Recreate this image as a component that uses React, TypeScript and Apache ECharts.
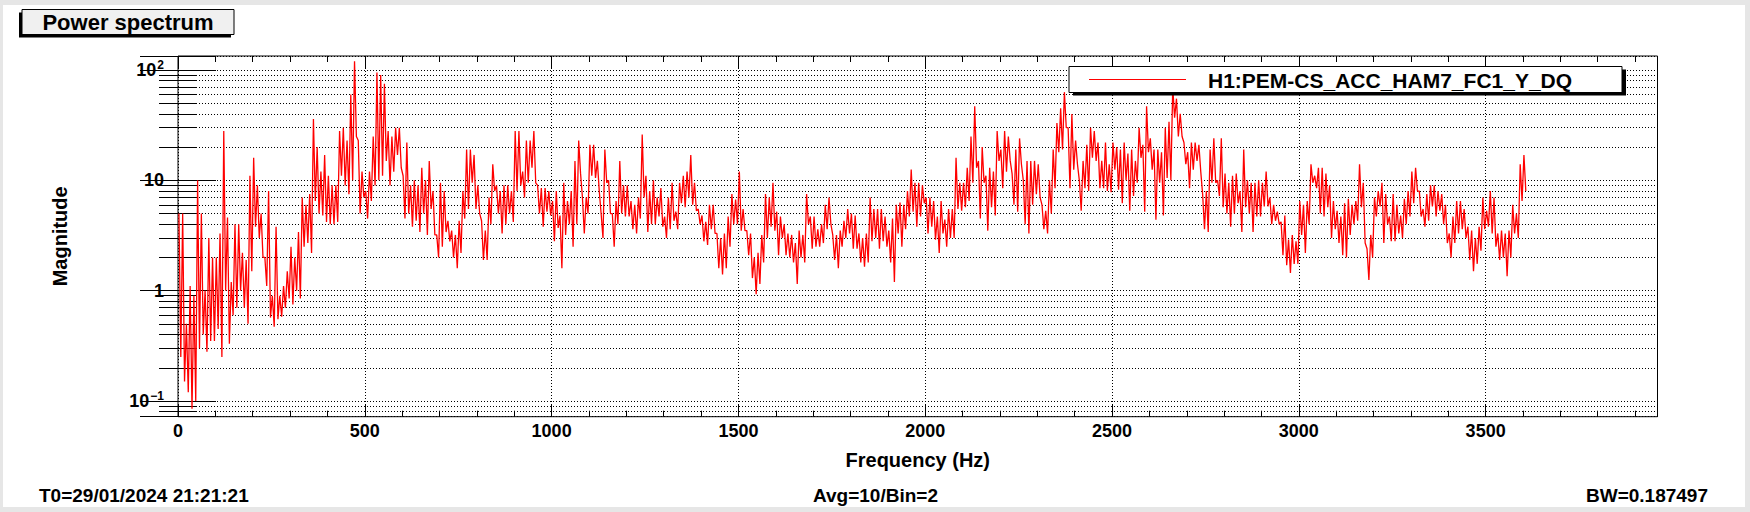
import React, { useEffect, useRef } from "react";
import * as echarts from "echarts";

// ---- data (power spectrum envelope per 10 Hz bin) ----
const BIN_WIDTH_HZ = 10;

// upper envelope of each 10 Hz bin (0 Hz .. 3610 Hz)
const binHigh = [
  5, 5, 0.5, 1.1, 0.9, 10, 5, 1, 3, 2,
  2, 3.3, 28, 4.6, 1.2, 4, 4, 2.2, 1.9, 11,
  16, 9, 5, 2, 8, 0.9, 3.8, 0.9, 1.1, 1.5,
  2.5, 2, 3.4, 7, 6, 7.5, 36, 20, 12, 17,
  11, 9, 9, 28, 30, 23, 60, 120, 23, 12,
  8, 12, 25, 95, 90, 75, 28, 25, 30, 30,
  11, 22, 9, 10, 9, 13, 10, 15, 8, 3.2,
  9.5, 8, 4.3, 3.5, 3.2, 4.3, 8, 19, 19, 17,
  9, 4.3, 3.5, 7, 14, 9, 8, 9, 9, 8,
  28, 28, 12, 23, 23, 28, 9, 8.5, 8.5, 8,
  6.5, 8, 4.8, 9.5, 6.5, 8, 15, 23, 7, 7,
  21, 21, 15, 5, 19, 10, 5, 6.5, 15, 9,
  9, 6.5, 6, 7, 26, 11, 8, 10, 7, 8.5,
  4.7, 7, 9.5, 5.2, 9.5, 11, 12, 17, 9.5, 5.5,
  4.8, 4.2, 6, 6, 3.3, 3, 3.3, 4.7, 7.5, 6.7,
  12, 5.5, 3.5, 3.3, 2, 2.2, 3.2, 7.5, 7, 9.5,
  5.2, 4.7, 4, 3.3, 3.2, 2.7, 3.5, 3.2, 7.5, 4.7,
  4.7, 3.6, 4, 6, 7, 3.2, 3.2, 3.5, 4.3, 5.5,
  5, 4.8, 3.3, 3, 3.3, 7, 5.5, 5.5, 5.5, 4.7,
  3.5, 4.5, 6, 6.3, 6, 8, 12.5, 9.5, 9.5, 9,
  7, 7, 6.5, 4.7, 6.5, 4.4, 5.5, 5.5, 16, 9.5,
  9.5, 13, 25, 47, 15, 20, 11, 13, 12, 28,
  19, 28, 25, 11.5, 19, 24, 10, 15, 15, 15,
  14, 6, 5.3, 10, 19, 33, 45, 63, 30, 40,
  23, 10, 15, 21, 30, 28, 22, 15, 22, 14,
  22, 20, 19, 22, 17.5, 19, 15, 30, 21, 47,
  24, 19, 19, 18, 30, 34, 70, 55, 40, 22,
  18, 22, 22, 21, 7.5, 8, 19, 24, 10, 24,
  11.5, 9.5, 11, 11.5, 8, 19, 10, 9.5, 9.5, 10,
  9.5, 12, 7, 6, 5.2, 4.2, 4.8, 2.9, 3.2, 2.8,
  6.5, 6, 6.5, 14, 11, 13, 13, 11.5, 9, 6.5,
  5.3, 4.7, 6.2, 6.8, 6, 6.5, 14, 9.5, 2.4, 3.2,
  7, 8, 9.5, 7.5, 4.7, 7.5, 6, 4.8, 6.8, 8,
  12, 13, 8, 5.5, 7.5, 9, 9, 8, 7.5, 6,
  3.3, 4.7, 6.5, 6.5, 5.5, 3.8, 3.5, 3, 3.8, 7,
  5.3, 8, 7, 3.3, 3.5, 3.3, 3.5, 6, 5, 14, 17,
];

// lower envelope of each 10 Hz bin
const binLow = [
  0.25, 0.15, 0.12, 0.085, 0.1, 0.3, 0.4, 0.28, 0.35, 0.35,
  0.45, 0.25, 1.0, 0.33, 0.6, 0.7, 1, 0.7, 0.5, 1.5,
  3.8, 3, 2, 1.1, 0.57, 0.47, 0.55, 0.58, 0.7, 0.85,
  0.75, 1, 0.85, 2.5, 2.7, 2.2, 6.5, 5, 4.8, 4.2,
  4, 4, 4.2, 11, 9, 7.5, 10, 25, 5, 7,
  4.5, 6.5, 9, 10, 11, 15, 9, 12, 17, 13,
  4.5, 5, 3.8, 4.3, 3.4, 5, 3.2, 5.5, 3.2, 2.0,
  2.5, 3.4, 2.8, 2, 1.6, 2.2, 4.5, 5.5, 9.5, 5.5,
  5, 1.9, 1.9, 4, 8, 5, 3.3, 4, 5, 4.2,
  8, 9, 7, 9.5, 13, 9.5, 5, 3.8, 5.2, 4.8,
  2.8, 3.7, 1.6, 3.2, 4, 2.5, 4, 11.5, 3.3, 5,
  11, 10.5, 8, 3, 9.5, 5, 2.5, 4, 5, 4.7,
  4.7, 3.6, 3.3, 4.5, 7, 3.4, 4, 4, 4.7, 3.8,
  3, 3.6, 4.3, 3.6, 6.2, 5.7, 7, 6, 5.3, 4,
  2.8, 2.6, 3.6, 3.3, 1.6, 1.4, 1.6, 2.5, 4, 4,
  3.5, 3.5, 2.1, 1.3, 0.93, 1.15, 1.8, 3, 3.8, 3.5,
  2.1, 3, 2.1, 2, 1.8, 1.15, 2, 1.8, 4, 2.4,
  2.5, 2.5, 2.7, 3.6, 4, 1.9, 1.6, 2.5, 3, 3.3,
  2.4, 2.4, 1.8, 1.65, 1.8, 2.8, 3, 2.4, 2.8, 2.5,
  1.8, 1.2, 3.3, 2.5, 3.6, 4.7, 5.2, 3.8, 4.7, 6.2,
  3.3, 3.8, 2.9, 2.2, 3.3, 2.5, 3, 3, 5.5, 5.3,
  5.7, 6.5, 9.5, 13, 4.5, 9.5, 3.5, 5.7, 4.8, 15,
  8.5, 12, 15, 6, 5.2, 14, 4, 3.3, 6, 7.5,
  7, 3.6, 3.3, 5, 8.5, 18, 19, 30, 8.5, 12.5,
  14, 5.3, 8.5, 8, 16, 15, 8.5, 8.5, 8, 7.8,
  12.5, 8.2, 6.2, 10, 5.3, 7.2, 9.5, 16, 5.2, 18,
  12.5, 4.4, 9.5, 4.8, 10.5, 10, 37, 25, 25, 14,
  8.5, 12.5, 15, 12, 3.6, 3.4, 9.5, 9.5, 7.2, 5.7,
  5, 3.8, 5, 6.2, 3.4, 5.7, 5, 3.4, 4.7, 4.7,
  5.8, 5.8, 4, 4.3, 4, 2.1, 1.7, 1.45, 1.75, 1.75,
  3.2, 2.2, 4, 9.5, 8.5, 5, 4.7, 5.7, 3, 3.6,
  2.7, 2.1, 2, 3.2, 4, 4.3, 5.7, 2.7, 1.25, 2,
  4.7, 5.8, 2.7, 4, 2.8, 2.8, 3.3, 3, 4, 4.7,
  6.2, 8, 4.7, 3.8, 4.3, 5.8, 4.7, 5.3, 4, 2.7,
  2, 2.7, 3.3, 3.6, 3, 1.9, 1.5, 1.75, 2.3, 3.6,
  3.8, 3.3, 2.5, 1.9, 2, 1.35, 2, 3.3, 3, 6.5, 8,
];

const X_MIN = 0;
const X_MAX = 3960;
const X_INTERVAL = 500;
const Y_MIN = 0.072;
const Y_MAX = 134;

// y tick labels: value -> mantissa / exponent
const yTickValues = [0.1, 1, 10, 100];
const yTickMantissa = ["10", "1", "10", "10"];
const yTickExponent = ["\u22121", "", "", "2"];

const titleText = "Power spectrum";
const channelName = "H1:PEM-CS_ACC_HAM7_FC1_Y_DQ";
const xAxisTitle = "Frequency (Hz)";
const yAxisTitle = "Magnitude";
const footerStart = "T0=29/01/2024 21:21:21";
const footerAvg = "Avg=10/Bin=2";
const footerBw = "BW=0.187497";

const FONT = "'Liberation Sans', Arial, Helvetica, sans-serif";

function buildSpectrum(): [number, number][] {
  const pts: [number, number][] = [];
  for (let k = 0; k < binHigh.length; k++) {
    const f0 = k * BIN_WIDTH_HZ;
    pts.push([f0 + BIN_WIDTH_HZ * 0.25, binHigh[k]]);
    pts.push([f0 + BIN_WIDTH_HZ * 0.75, binLow[k]]);
  }
  return pts;
}

export default function App() {
  const ref = useRef<HTMLDivElement>(null);

  useEffect(() => {
    if (!ref.current) return;
    const chart = echarts.init(ref.current, null, { renderer: "svg", width: 1750, height: 512 });

    const black = "#000000";
    const dotted = { color: black, width: 1, type: [1, 2] as any };

    const yLabelFormatter = (v: number) => {
      let idx = -1;
      for (let i = 0; i < yTickValues.length; i++) {
        if (Math.abs(Math.log10(v) - Math.log10(yTickValues[i])) < 1e-6) idx = i;
      }
      if (idx < 0) return "";
      const e = yTickExponent[idx];
      return e ? `{n|${yTickMantissa[idx]}}{e|${e}}` : `{n|${yTickMantissa[idx]}}`;
    };

    const option: any = {
      animation: false,
      backgroundColor: "transparent",
      grid: {
        left: 178,
        right: 92.5,
        top: 56,
        bottom: 95.3,
        show: true,
        borderColor: black,
        borderWidth: 1,
        backgroundColor: "transparent",
      },
      xAxis: [
        {
          type: "value",
          position: "bottom",
          min: X_MIN,
          max: X_MAX,
          interval: X_INTERVAL,
          axisLine: { show: false },
          axisTick: { show: true, inside: true, length: 12, lineStyle: { color: black, width: 1 } },
          minorTick: { show: true, splitNumber: 5, length: 6, lineStyle: { color: black, width: 1 } },
          splitLine: { show: true, lineStyle: dotted },
          axisLabel: {
            show: true,
            margin: 5,
            showMaxLabel: false,
            formatter: (v: number) => String(v),
            fontSize: 18,
            fontWeight: "bold",
            fontFamily: FONT,
            color: black,
          },
          name: xAxisTitle,
          nameLocation: "middle",
          nameGap: 33,
          nameTextStyle: { fontSize: 20, fontWeight: "bold", fontFamily: FONT, color: black },
        },
        {
          type: "value",
          position: "top",
          min: X_MIN,
          max: X_MAX,
          interval: X_INTERVAL,
          axisLine: { show: false },
          axisTick: { show: true, inside: true, length: 12, lineStyle: { color: black, width: 1 } },
          minorTick: { show: true, splitNumber: 5, length: 6, lineStyle: { color: black, width: 1 } },
          splitLine: { show: false },
          axisLabel: { show: false },
        },
      ],
      yAxis: [
        {
          type: "log",
          logBase: 10,
          position: "left",
          min: Y_MIN,
          max: Y_MAX,
          axisLine: { show: false },
          axisTick: { show: true, inside: true, length: 38, lineStyle: { color: black, width: 1 } },
          minorTick: { show: true, splitNumber: 9, length: 19, lineStyle: { color: black, width: 1 } },
          splitLine: { show: true, lineStyle: dotted },
          minorSplitLine: { show: true, lineStyle: dotted },
          axisLabel: {
            show: true,
            margin: 14,
            showMinLabel: false,
            showMaxLabel: false,
            formatter: yLabelFormatter,
            rich: {
              n: { fontSize: 18, fontWeight: "bold", fontFamily: FONT, color: black, lineHeight: 22 },
              e: {
                fontSize: 12,
                fontWeight: "bold",
                fontFamily: FONT,
                color: black,
                verticalAlign: "top",
                lineHeight: 12,
                padding: [0, 0, 0, 1],
              },
            },
          },
          name: yAxisTitle,
          nameLocation: "middle",
          nameGap: 108,
          nameRotate: 90,
          nameTextStyle: { fontSize: 20, fontWeight: "bold", fontFamily: FONT, color: black },
        },
        {
          type: "log",
          logBase: 10,
          position: "right",
          min: Y_MIN,
          max: Y_MAX,
          axisLine: { show: false },
          axisTick: { show: true, inside: true, length: 38, lineStyle: { color: black, width: 1 } },
          minorTick: { show: true, splitNumber: 9, length: 19, lineStyle: { color: black, width: 1 } },
          splitLine: { show: false },
          minorSplitLine: { show: false },
          axisLabel: { show: false },
        },
      ],
      series: [
        {
          name: channelName,
          type: "line",
          xAxisIndex: 0,
          yAxisIndex: 0,
          data: buildSpectrum(),
          showSymbol: false,
          symbol: "none",
          silent: true,
          lineStyle: { color: "#ff0000", width: 1.3 },
          itemStyle: { color: "#ff0000" },
          z: 3,
        },
      ],
      graphic: [
        // title pave
        { type: "rect", z: 10, shape: { x: 19, y: 12.5, width: 212, height: 25 }, style: { fill: black } },
        {
          type: "rect",
          z: 11,
          shape: { x: 22, y: 9.5, width: 212, height: 25 },
          style: { fill: "#f0f0f0", stroke: black, lineWidth: 1 },
        },
        {
          type: "text",
          z: 12,
          x: 128,
          y: 22,
          style: {
            text: titleText,
            fill: black,
            font: `bold 22px ${FONT}`,
            align: "center",
            verticalAlign: "middle",
            textAlign: "center",
            textVerticalAlign: "middle",
          },
        },
        // legend box
        { type: "rect", z: 10, shape: { x: 1073, y: 69.5, width: 553, height: 26 }, style: { fill: black } },
        {
          type: "rect",
          z: 11,
          shape: { x: 1069, y: 66.5, width: 553, height: 26 },
          style: { fill: "#ffffff", stroke: black, lineWidth: 1 },
        },
        {
          type: "line",
          z: 12,
          shape: { x1: 1089, y1: 79.5, x2: 1186, y2: 79.5 },
          style: { stroke: "#ff0000", lineWidth: 1 },
        },
        {
          type: "text",
          z: 12,
          x: 1208,
          y: 80,
          style: {
            text: channelName,
            fill: black,
            font: `bold 21px ${FONT}`,
            align: "left",
            verticalAlign: "middle",
            textAlign: "left",
            textVerticalAlign: "middle",
          },
        },
        // footer
        {
          type: "text",
          z: 12,
          x: 39,
          y: 495,
          style: {
            text: footerStart,
            fill: black,
            font: `bold 19px ${FONT}`,
            align: "left",
            verticalAlign: "middle",
            textAlign: "left",
            textVerticalAlign: "middle",
          },
        },
        {
          type: "text",
          z: 12,
          x: 813,
          y: 495,
          style: {
            text: footerAvg,
            fill: black,
            font: `bold 19px ${FONT}`,
            align: "left",
            verticalAlign: "middle",
            textAlign: "left",
            textVerticalAlign: "middle",
          },
        },
        {
          type: "text",
          z: 12,
          x: 1708,
          y: 495,
          style: {
            text: footerBw,
            fill: black,
            font: `bold 19px ${FONT}`,
            align: "right",
            verticalAlign: "middle",
            textAlign: "right",
            textVerticalAlign: "middle",
          },
        },
      ],
    };

    chart.setOption(option);
    return () => chart.dispose();
  }, []);

  return (
    <div
      style={{
        position: "fixed",
        left: 0,
        top: 0,
        width: 1750,
        height: 512,
        background: "#e6e6e6",
        overflow: "hidden",
      }}
    >
      <div
        style={{ position: "absolute", left: 3, top: 5, width: 1742, height: 502, background: "#ffffff" }}
      />
      <div ref={ref} style={{ position: "absolute", left: 0, top: 0, width: 1750, height: 512 }} />
    </div>
  );
}
